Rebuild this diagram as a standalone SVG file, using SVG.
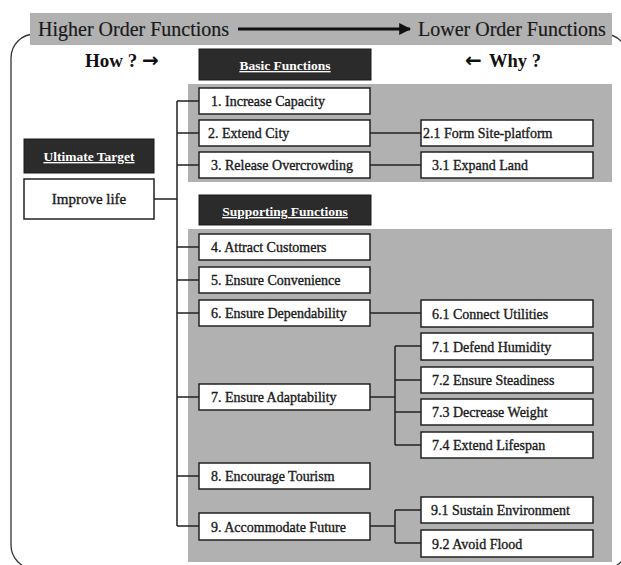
<svg xmlns="http://www.w3.org/2000/svg" width="621" height="565" viewBox="0 0 621 565">
<defs>
<style>
.bg{fill:#fff}
.gray{fill:#b1b1b1}
.box{fill:#fff;stroke:#222;stroke-width:1.5}
.dark{fill:#2b2b2b;stroke:#1a1a1a;stroke-width:1}
.t{font-family:"Liberation Serif","Times New Roman",serif;font-size:14px;fill:#1a1a1a;stroke:#1a1a1a;stroke-width:0.35}
.dt{font-family:"Liberation Serif","Times New Roman",serif;font-size:13.5px;font-weight:bold;fill:#fff;text-decoration:underline;text-anchor:middle}
.hd{font-family:"Liberation Serif","Times New Roman",serif;font-size:20px;fill:#1a1a1a;stroke:#1a1a1a;stroke-width:0.2}
.hw{font-family:"Liberation Serif","Times New Roman",serif;font-size:19px;font-weight:bold;fill:#111}
.ar{font-family:"DejaVu Sans",sans-serif;font-size:20px;font-weight:bold;fill:#111}
.ln{fill:none;stroke:#222;stroke-width:1.5}
</style>
<marker id="ah" viewBox="0 0 10 10" refX="9" refY="5" markerWidth="4" markerHeight="4" orient="auto" markerUnits="strokeWidth">
<path d="M0,0 L10,5 L0,10 z" fill="#111"/>
</marker>
</defs>
<rect class="bg" x="0" y="0" width="621" height="565"/>
<rect x="11" y="34" width="617" height="535" rx="24" ry="24" fill="none" stroke="#333" stroke-width="1.3"/>
<g id="header">
<rect class="gray" x="30" y="13" width="582" height="32"/>
<text class="hd" x="38" y="36">Higher Order Functions</text>
<text class="hd" x="418" y="36">Lower Order Functions</text>
<line x1="238" y1="29" x2="410" y2="29" stroke="#111" stroke-width="3" marker-end="url(#ah)"/>
</g>
<text class="hw" x="85" y="67">How ?</text>
<text class="ar" x="142" y="67">→</text>
<text class="ar" x="465" y="67">←</text>
<text class="hw" x="489" y="67" style="font-size:18.5px">Why ?</text>
<rect class="gray" x="188" y="84" width="424" height="98"/>
<rect class="gray" x="188" y="229" width="424" height="333"/>
<g id="connectors">
<path class="ln" d="M154,199 H177 M177,101 V526 M177,101 H199 M177,133 H199 M177,165 H199 M177,247 H199 M177,280 H199 M177,313 H199 M177,397 H199 M177,476 H199 M177,526 H199"/>
<path class="ln" d="M370,133 H421 M370,165 H421 M370,313 H421"/>
<path class="ln" d="M370,397 H395 M395,346 V445 M395,346 H421 M395,380 H421 M395,412 H421 M395,445 H421"/>
<path class="ln" d="M370,526 H395 M395,510 V543 M395,510 H421 M395,543 H421"/>
</g>
<g id="basic-functions"><rect class="dark" x="199" y="49" width="172" height="31"/><text class="dt" x="285" y="70">Basic Functions</text></g>
<g id="supporting-functions"><rect class="dark" x="199" y="195" width="172" height="30"/><text class="dt" x="285" y="216">Supporting Functions</text></g>
<g id="ultimate-target"><rect class="dark" x="24" y="139" width="130" height="34"/><text class="dt" x="89" y="161">Ultimate Target</text></g>
<g id="improve-life"><rect class="box" x="24" y="179" width="130" height="40"/><text class="t" x="89" y="204" style="font-size:15px;text-anchor:middle">Improve life</text></g>
<g id="n1"><rect class="box" x="199" y="88" width="171" height="26"/><text class="t" x="211" y="106">1. Increase Capacity</text></g>
<g id="n2"><rect class="box" x="199" y="120" width="171" height="26"/><text class="t" x="208" y="138">2. Extend City</text></g>
<g id="n3"><rect class="box" x="199" y="152" width="171" height="26"/><text class="t" x="211" y="170">3. Release Overcrowding</text></g>
<g id="n21"><rect class="box" x="421" y="120" width="172" height="26"/><text class="t" x="423" y="138">2.1 Form Site-platform</text></g>
<g id="n31"><rect class="box" x="421" y="152" width="172" height="26"/><text class="t" x="432" y="170">3.1 Expand Land</text></g>
<g id="n4"><rect class="box" x="199" y="234" width="171" height="26"/><text class="t" x="211" y="252">4. Attract Customers</text></g>
<g id="n5"><rect class="box" x="199" y="267" width="171" height="26"/><text class="t" x="211" y="285">5. Ensure Convenience</text></g>
<g id="n6"><rect class="box" x="199" y="300" width="171" height="26"/><text class="t" x="211" y="318">6. Ensure Dependability</text></g>
<g id="n61"><rect class="box" x="421" y="300" width="172" height="27"/><text class="t" x="432" y="319">6.1 Connect Utilities</text></g>
<g id="n71"><rect class="box" x="421" y="333" width="172" height="27"/><text class="t" x="432" y="352">7.1 Defend Humidity</text></g>
<g id="n72"><rect class="box" x="421" y="367" width="172" height="26"/><text class="t" x="432" y="385">7.2 Ensure Steadiness</text></g>
<g id="n7"><rect class="box" x="199" y="384" width="171" height="26"/><text class="t" x="211" y="402">7. Ensure Adaptability</text></g>
<g id="n73"><rect class="box" x="421" y="399" width="172" height="26"/><text class="t" x="432" y="417">7.3 Decrease Weight</text></g>
<g id="n74"><rect class="box" x="421" y="432" width="172" height="26"/><text class="t" x="432" y="450">7.4 Extend Lifespan</text></g>
<g id="n8"><rect class="box" x="199" y="463" width="171" height="26"/><text class="t" x="211" y="481">8. Encourage Tourism</text></g>
<g id="n91"><rect class="box" x="421" y="497" width="172" height="26"/><text class="t" x="431" y="515">9.1 Sustain Environment</text></g>
<g id="n9"><rect class="box" x="199" y="513" width="171" height="27"/><text class="t" x="211" y="532">9. Accommodate Future</text></g>
<g id="n92"><rect class="box" x="421" y="530" width="172" height="27"/><text class="t" x="432" y="549">9.2 Avoid Flood</text></g>
</svg>
